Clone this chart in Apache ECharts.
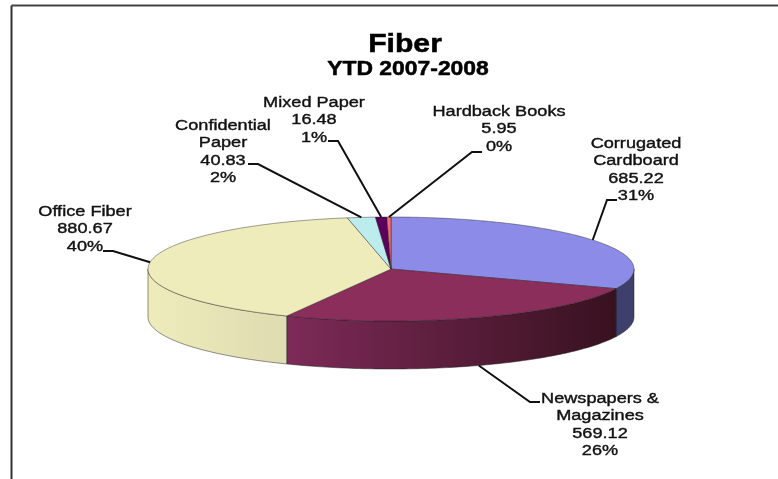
<!DOCTYPE html>
<html>
<head>
<meta charset="utf-8">
<style>
html, body { margin: 0; padding: 0; background: #fff; }
#chart { width: 778px; height: 479px; }
</style>
<script src="https://cdn.jsdelivr.net/npm/echarts@6/dist/echarts.min.js"></script>
</head>
<body>
<div id="chart"></div>
<script>
const categories = ['Corrugated\nCardboard', 'Newspapers &\nMagazines', 'Office Fiber', 'Confidential\nPaper', 'Mixed Paper', 'Hardback Books']
const values = [685.22, 569.12, 880.67, 40.83, 16.48, 5.95]

const topColors = ['#8C8CE8', '#8B2E5C', '#EEECBB', '#BCECEC', '#5C0060', '#F07070']
const wallColors = [
    ['#3F3F6B', '#3F3F6B'],
    ['#7D2A58', '#38111F'],
    ['#EEECBB', '#DEDCB0'],
    ['#BCECEC', '#BCECEC'],
    ['#5C0060', '#5C0060'],
    ['#F07070', '#F07070']
]

// label placement: [text centre x, first line top y, elbow x, elbow y, stem start x]
const labelLayout = [
    [636, 135, 607, 200, 617],
    [600, 390, 530, 402, 540],
    [85, 203, 113, 251, 103],
    [223, 117, 258, 164, 248],
    [314, 94, 338, 141, 328],
    [499, 103, 472, 152, 482]
]

const font = '"Liberation Sans", Arial, sans-serif'
const cx = 391, cy = 269, rx = 243, ry = 52, depth = 48
const total = values.reduce((a, b) => a + b, 0)

// angles run clockwise from 12 o'clock
const point = (deg, dy = 0) => {
    const r = deg * Math.PI / 180
    return [cx + rx * Math.sin(r), cy - ry * Math.cos(r) + dy]
}

const arc = (from, to, dy = 0) => {
    const pts = []
    const n = Math.max(2, Math.ceil(Math.abs(to - from)))
    for (let i = 0; i <= n; i++) pts.push(point(from + (to - from) * i / n, dy))
    return pts
}

function renderSlice(params, api) {
    const i = params.dataIndex
    const start = values.slice(0, i).reduce((a, b) => a + b, 0) / total * 360
    const end = start + api.value(0) / total * 360
    const mid = (start + end) / 2
    const children = []

    // side wall, only the front half of the disc shows
    const wallFrom = Math.max(start, 90), wallTo = Math.min(end, 270)
    if (wallTo > wallFrom) {
        children.push({
            type: 'polygon',
            shape: { points: arc(wallFrom, wallTo).concat(arc(wallTo, wallFrom, depth)) },
            style: {
                fill: {
                    type: 'linear', x: 0, y: 0, x2: 1, y2: 0,
                    colorStops: [
                        { offset: 0, color: wallColors[i][0] },
                        { offset: 1, color: wallColors[i][1] }
                    ]
                },
                stroke: 'rgba(30,30,30,0.7)',
                lineWidth: 0.7
            }
        })
    }

    children.push({
        type: 'polygon',
        shape: { points: [[cx, cy]].concat(arc(start, end)) },
        style: { fill: topColors[i], stroke: 'rgba(30,30,30,0.6)', lineWidth: 0.7 }
    })

    const l = labelLayout[i]
    const onFront = mid > 90 && mid < 270
    children.push({
        type: 'polyline',
        shape: { points: [[l[4], l[3]], [l[2], l[3]], point(mid, onFront ? depth : 0)] },
        style: { fill: null, stroke: '#111', lineWidth: 2 }
    })

    // the source text is stretched sideways, so scale it rather than enlarge it
    children.push({
        type: 'text',
        x: l[0],
        y: l[1],
        scaleX: 1.17,
        style: {
            text: categories[i] + '\n' + api.value(0).toFixed(2) + '\n' + Math.round(api.value(0) / total * 100) + '%',
            align: 'center',
            verticalAlign: 'top',
            fontFamily: font,
            fontSize: 15.5,
            lineHeight: 17.4,
            fill: '#111',
            stroke: '#111',
            lineWidth: 0.4
        }
    })

    return { type: 'group', children }
}

const myChart = echarts.init(document.getElementById('chart'), null, { renderer: 'canvas' })

myChart.setOption({
    animation: false,
    backgroundColor: '#fff',
    series: [
        {
            type: 'custom',
            coordinateSystem: 'none',
            renderItem: renderSlice,
            data: values.map((v) => [v])
        }
    ],
    graphic: [
        {
            type: 'text', x: 405, y: 32, scaleX: 1.16,
            style: { text: 'Fiber', align: 'center', verticalAlign: 'top', fontFamily: font, fontSize: 26, fontWeight: 'bold', fill: '#000', stroke: '#000', lineWidth: 0.5 }
        },
        {
            type: 'text', x: 408, y: 59, scaleX: 1.09,
            style: { text: 'YTD 2007-2008', align: 'center', verticalAlign: 'top', fontFamily: font, fontSize: 21, fontWeight: 'bold', fill: '#000', stroke: '#000', lineWidth: 0.5 }
        },
        // the "26%" label is cut off at the bottom of the source image
        { type: 'rect', z: 100, shape: { x: 13, y: 456, width: 765, height: 23 }, style: { fill: '#fff' } },
        { type: 'line', z: 101, shape: { x1: 11.5, y1: 5.5, x2: 778, y2: 5.5 }, style: { stroke: '#444', lineWidth: 2 } },
        { type: 'line', z: 101, shape: { x1: 11.5, y1: 5.5, x2: 11.5, y2: 479 }, style: { stroke: '#333', lineWidth: 2 } }
    ]
})
</script>
</body>
</html>
